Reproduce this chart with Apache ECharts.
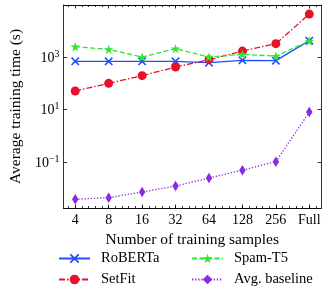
<!DOCTYPE html>
<html>
<head>
<meta charset="utf-8">
<script src="https://cdn.jsdelivr.net/npm/echarts@6/dist/echarts.min.js"></script>
<style>
html,body{margin:0;padding:0;background:#fff;}
#chart{width:327px;height:297px;}
</style>
</head>
<body>
<div id="chart"></div>
<script>
// ---- data ----
const categories = ['4', '8', '16', '32', '64', '128', '256', 'Full'];
const roberta  = [690, 690, 690, 690, 612, 750, 730, 4200];
const setfit   = [51, 100, 196, 417, 796, 1690, 3230, 43100];
const spamT5   = [2480, 1960, 1000, 2090, 1000, 1270, 1090, 4070];
const baseline = [0.0039, 0.0045, 0.0074, 0.0124, 0.025, 0.050, 0.105, 8.1];
const yTickValues = [0.1, 10, 1000];
const seriesNames = ['RoBERTa', 'SetFit', 'Spam-T5', 'Avg. baseline'];

const FONT = 'Liberation Serif';
const xMin = -0.35, xMax = 7.35;
const yMin = Math.pow(10, -2.74), yMax = Math.pow(10, 4.98);
const majorX = categories.map((c, i) => i);
const minorX = [];
for (let k = -1; k <= 36; k++) minorX.push(Math.round(k * 2) / 10);

const toPairs = arr => arr.map((v, i) => [i, v]);

const xBase = (pos, ticks, len, labels) => ({
  type: 'value', position: pos, min: xMin, max: xMax, gridIndex: 0,
  axisLine: { show: true, onZero: false, lineStyle: { color: '#000', width: 0.8 } },
  axisTick: { show: true, inside: true, length: len, customValues: ticks, lineStyle: { color: '#000', width: 0.8 } },
  axisLabel: labels ? {
    show: true, customValues: majorX, margin: 5, color: '#000', fontFamily: FONT, fontSize: 14,
    formatter: v => categories[Math.round(v)] || ''
  } : { show: false },
  splitLine: { show: false }
});

const supFmt = v => {
  const e = Math.round(Math.log10(v));
  return '{b|10}{s|' + (e < 0 ? '\u2212' + (-e) : e) + '}';
};

const yBase = (pos, labels) => ({
  type: 'log', logBase: 10, position: pos, min: yMin, max: yMax, gridIndex: 0,
  axisLine: { show: true, onZero: false, lineStyle: { color: '#000', width: 0.8 } },
  axisTick: { show: true, inside: true, length: 3.5, customValues: yTickValues, lineStyle: { color: '#000', width: 0.8 } },
  axisLabel: labels ? {
    show: true, customValues: yTickValues, margin: 4, color: '#000', formatter: supFmt,
    rich: {
      b: { fontFamily: FONT, fontSize: 14, lineHeight: 16, color: '#000', verticalAlign: 'bottom' },
      s: { fontFamily: FONT, fontSize: 10, lineHeight: 10, color: '#000', verticalAlign: 'top' }
    }
  } : { show: false },
  splitLine: { show: false },
  name: labels ? 'Average training time (s)' : '',
  nameLocation: 'middle', nameGap: 39, nameRotate: 90,
  nameTextStyle: { fontFamily: FONT, fontSize: 15.5, color: '#000' }
});

const xStar = 'path://M5,0L6.2,3.6L10,3.6L6.9,5.8L8.1,9.5L5,7.2L1.9,9.5L3.1,5.8L0,3.6L3.8,3.6Z';
const xCross = 'path://M0,1.3L1.3,0L5,3.7L8.7,0L10,1.3L6.3,5L10,8.7L8.7,10L5,6.3L1.3,10L0,8.7L3.7,5Z';

const mk = (name, data, color, type, symbol, size) => ({
  name, type: 'line', xAxisIndex: 0, yAxisIndex: 0, data: toPairs(data),
  symbol, symbolSize: size, showSymbol: true,
  lineStyle: { color, width: 1.3, type },
  itemStyle: { color, borderWidth: 0 },
  emphasis: { disabled: true }, animation: false
});

const legendAt = (name, left, top) => ({
  data: [name], orient: 'horizontal', left, top,
  itemWidth: 31, itemHeight: 12, padding: 0, selectedMode: false,
  textStyle: { fontFamily: FONT, fontSize: 14.5, color: '#000', padding: [0, 0, 0, 6] }
});

const chart = echarts.init(document.getElementById('chart'), null, { renderer: 'canvas' });
const xTitle = xBase('bottom', majorX, 3.5, true);
xTitle.name = 'Number of training samples';
xTitle.nameLocation = 'middle';
xTitle.nameGap = 20;
xTitle.nameTextStyle = { fontFamily: FONT, fontSize: 15.5, color: '#000', verticalAlign: 'top' };

chart.setOption({
  animation: false,
  grid: { left: 55, top: 5, width: 266, height: 203, containLabel: false },
  xAxis: [
    xTitle,
    xBase('bottom', minorX, 2, false),
    xBase('top', majorX, 3.5, false),
    xBase('top', minorX, 2, false)
  ],
  yAxis: [ yBase('left', true), yBase('right', false) ],
  legend: [
    legendAt(seriesNames[0], 58, 251),
    legendAt(seriesNames[1], 58, 272),
    legendAt(seriesNames[2], 191, 251),
    legendAt(seriesNames[3], 191, 272)
  ],
  series: [
    mk(seriesNames[0], roberta, '#1f4fff', 'solid', xCross, 8.5),
    mk(seriesNames[1], setfit, '#e8102a', [6, 2, 1.5, 2], 'circle', 9),
    mk(seriesNames[2], spamT5, '#2ee62e', [5, 2.5], xStar, 9.5),
    mk(seriesNames[3], baseline, '#8a2be2', [1.3, 1.8], 'diamond', [6.5, 10.5])
  ]
});
</script>
</body>
</html>
